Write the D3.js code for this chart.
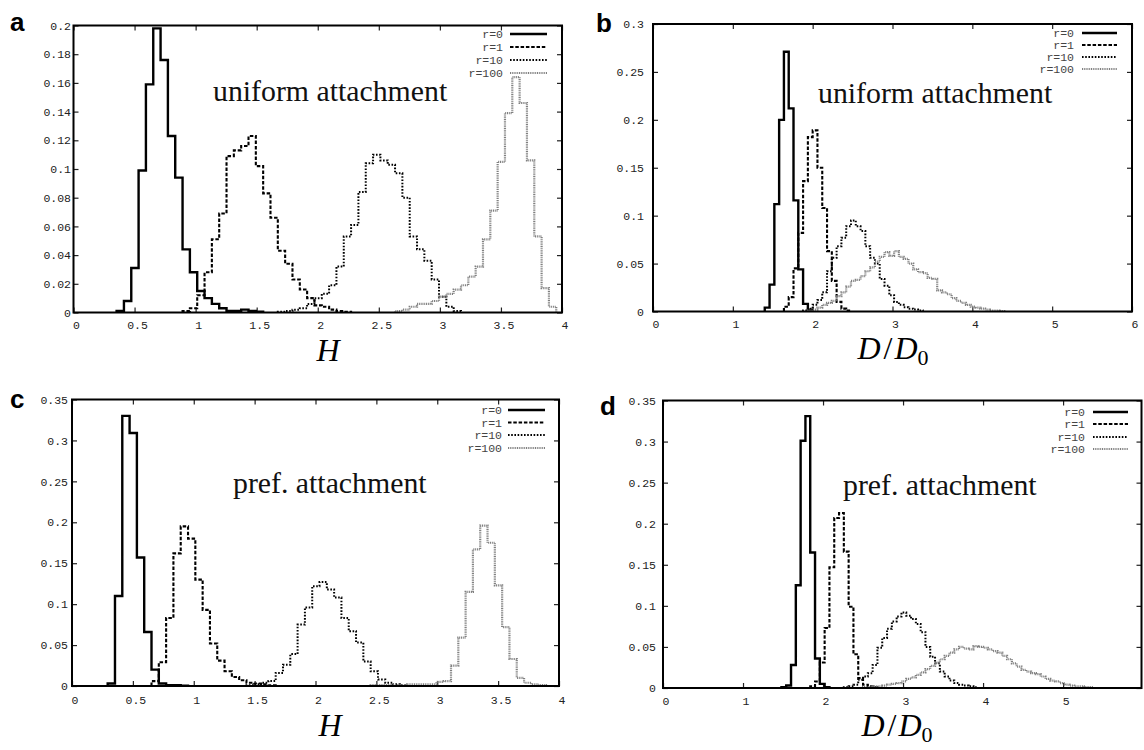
<!DOCTYPE html>
<html><head><meta charset="utf-8">
<script src="https://cdn.jsdelivr.net/npm/d3@7"></script>
<style>body{margin:0;background:#fff}svg{display:block}</style>
</head><body><svg id="c" width="1144" height="750"></svg>
<script>
// ---------- DATA ----------
const BIN = 0.06;
const legendLabels = ["r=0", "r=1", "r=10", "r=100"];

// panel a : H, uniform attachment (bin left edges start)
const a_starts = [0.353, 0.893, 1.673, 2.633];
const a_r0 = [0.001, 0.008, 0.031, 0.099, 0.159, 0.198, 0.176, 0.123, 0.094, 0.044, 0.028, 0.015, 0.010, 0.006, 0.003, 0.001, 0.001, 0.002, 0.001, 0.0005];
const a_r1 = [0.001, 0.003, 0.012, 0.028, 0.051, 0.069, 0.109, 0.113, 0.116, 0.123, 0.102, 0.083, 0.066, 0.043, 0.034, 0.023, 0.016, 0.010, 0.005, 0.004, 0.002, 0.001, 0.0005];
const a_r10 = [0.0005, 0.001, 0.002, 0.003, 0.006, 0.010, 0.013, 0.019, 0.032, 0.053, 0.061, 0.084, 0.104, 0.110, 0.106, 0.103, 0.097, 0.080, 0.053, 0.044, 0.036, 0.023, 0.011, 0.004, 0.001];
const a_r100 = [0.001, 0.002, 0.004, 0.006, 0.006, 0.008, 0.011, 0.013, 0.016, 0.019, 0.025, 0.032, 0.051, 0.071, 0.105, 0.139, 0.164, 0.146, 0.106, 0.053, 0.017, 0.004];

// panel b : D/D0, uniform attachment
const b_starts = [1.40, 1.64, 1.88, 1.94];
const b_r0 = [0.004, 0.028, 0.112, 0.200, 0.271, 0.212, 0.116, 0.044, 0.008, 0.002];
const b_r1 = [0.005, 0.015, 0.045, 0.082, 0.136, 0.182, 0.189, 0.150, 0.108, 0.063, 0.032, 0.010, 0.003, 0.001];
const b_r10 = [0.001, 0.003, 0.007, 0.012, 0.020, 0.042, 0.056, 0.068, 0.077, 0.089, 0.095, 0.089, 0.084, 0.068, 0.056, 0.050, 0.034, 0.027, 0.017, 0.010, 0.007, 0.0045, 0.003, 0.002, 0.001];
const b_r100 = [0.001, 0.002, 0.004, 0.007, 0.009, 0.011, 0.016, 0.020, 0.026, 0.032, 0.033, 0.037, 0.042, 0.046, 0.052, 0.057, 0.062, 0.058, 0.063, 0.057, 0.055, 0.050, 0.044, 0.041, 0.040, 0.035, 0.034, 0.022, 0.020, 0.018, 0.014, 0.011, 0.009, 0.007, 0.005, 0.004, 0.003, 0.002, 0.001, 0.001, 0.0005];

// panel c : H, pref. attachment
const c_starts = [0.293, 0.653, 1.433, 2.453];
const c_r0 = [0.003, 0.110, 0.330, 0.309, 0.157, 0.066, 0.020, 0.003, 0.001, 0.001, 0.0005];
const c_r1 = [0.006, 0.029, 0.083, 0.162, 0.195, 0.180, 0.130, 0.093, 0.052, 0.031, 0.018, 0.011, 0.007, 0.004, 0.003, 0.002, 0.001];
const c_r10 = [0.001, 0.002, 0.004, 0.006, 0.016, 0.026, 0.039, 0.075, 0.096, 0.122, 0.127, 0.118, 0.108, 0.083, 0.067, 0.053, 0.030, 0.018, 0.008, 0.004, 0.002, 0.001];
const c_r100 = [0.001, 0.001, 0.001, 0.001, 0.001, 0.002, 0.002, 0.002, 0.002, 0.005, 0.006, 0.025, 0.059, 0.115, 0.167, 0.196, 0.175, 0.123, 0.072, 0.033, 0.010, 0.004, 0.002, 0.001];

// panel d : D/D0, pref. attachment
const d_starts = [1.48, 1.84, 2.26, 2.50];
const d_r0 = [0.001, 0.003, 0.028, 0.125, 0.301, 0.331, 0.165, 0.036, 0.005, 0.001];
const d_r1 = [0.002, 0.008, 0.031, 0.073, 0.147, 0.207, 0.213, 0.166, 0.099, 0.041, 0.012, 0.004, 0.002, 0.001];
const d_r10 = [0.001, 0.002, 0.004, 0.010, 0.014, 0.018, 0.028, 0.049, 0.061, 0.072, 0.081, 0.087, 0.092, 0.088, 0.084, 0.078, 0.068, 0.050, 0.038, 0.030, 0.020, 0.014, 0.009, 0.006, 0.004, 0.003, 0.002, 0.001];
const d_r100 = [0.001, 0.001, 0.002, 0.002, 0.003, 0.004, 0.005, 0.006, 0.008, 0.011, 0.013, 0.016, 0.019, 0.023, 0.027, 0.031, 0.035, 0.039, 0.043, 0.047, 0.050, 0.048, 0.047, 0.051, 0.050, 0.049, 0.047, 0.045, 0.043, 0.039, 0.035, 0.030, 0.026, 0.022, 0.020, 0.018, 0.017, 0.014, 0.011, 0.009, 0.008, 0.006, 0.004, 0.003, 0.002, 0.002, 0.001, 0.001];

// ticks
const hTicks = [0, 0.5, 1, 1.5, 2, 2.5, 3, 3.5, 4];
const bXTicks = [0, 1, 2, 3, 4, 5, 6];
const dXTicks = [0, 1, 2, 3, 4, 5];
const aYTicks = [0, 0.02, 0.04, 0.06, 0.08, 0.1, 0.12, 0.14, 0.16, 0.18, 0.2];
const bYTicks = [0, 0.05, 0.1, 0.15, 0.2, 0.25, 0.3];
const cdYTicks = [0, 0.05, 0.1, 0.15, 0.2, 0.25, 0.3, 0.35];

// ---------- LAYOUT ----------
const styles = [
  {stroke: "#000", width: 2.4, dash: null},
  {stroke: "#000", width: 2.1, dash: "3.5,1.8"},
  {stroke: "#000", width: 2.0, dash: "1.6,1.6"},
  {stroke: "#808080", width: 2.2, dash: "1,0.8"}
];

const panels = [
  {letter: "a", lx: 10, ly: 31, xr: [73.5, 562], yr: [312.5, 25.5], xd: [0, 4], yd: [0, 0.2],
   xt: hTicks, yt: aYTicks, xpad: 8, ypad: 2.5, title: "uniform attachment", tx: 213, ty: 101,
   lab: "H", labx: 328, laby: 361,
   leg: {tx: 503, x1: 510, x2: 547, ys: [34, 47, 60, 73]},
   starts: a_starts, series: [a_r0, a_r1, a_r10, a_r100]},
  {letter: "b", lx: 596, ly: 32, xr: [653, 1132], yr: [311.5, 24], xd: [0, 6], yd: [0, 0.3],
   xt: bXTicks, yt: bYTicks, xpad: 8, ypad: 9, title: "uniform attachment", tx: 818, ty: 103,
   lab: "D/D0", labx: 893, laby: 359,
   leg: {tx: 1074, x1: 1082, x2: 1117, ys: [33, 45, 57, 69]},
   starts: b_starts, series: [b_r0, b_r1, b_r10, b_r100]},
  {letter: "c", lx: 10, ly: 408, xr: [72, 559], yr: [686, 399.5], xd: [0, 4], yd: [0, 0.35],
   xt: hTicks, yt: cdYTicks, xpad: 10, ypad: 4, title: "pref. attachment", tx: 233, ty: 493,
   lab: "H", labx: 330, laby: 736,
   leg: {tx: 502, x1: 508, x2: 545, ys: [410, 422.5, 435, 448]},
   starts: c_starts, series: [c_r0, c_r1, c_r10, c_r100]},
  {letter: "d", lx: 600, ly: 415, xr: [663, 1141.5], yr: [688, 400.5], xd: [0, 5.98], yd: [0, 0.35],
   xt: dXTicks, yt: cdYTicks, xpad: 9, ypad: 7, title: "pref. attachment", tx: 843, ty: 495,
   lab: "D/D0", labx: 897, laby: 736,
   leg: {tx: 1085, x1: 1093, x2: 1128, ys: [412, 424, 437, 449]},
   starts: d_starts, series: [d_r0, d_r1, d_r10, d_r100]}
];

const svg = d3.select("#c");
const mono = "'Liberation Mono','DejaVu Sans Mono',monospace";
const serif = "'Liberation Serif','DejaVu Serif',serif";
const fmt = d3.format("~g");

panels.forEach((p, pi) => {
  const x = d3.scaleLinear().domain(p.xd).range(p.xr);
  const y = d3.scaleLinear().domain(p.yd).range(p.yr);
  const g = svg.append("g");

  const clipId = "clip" + pi;
  svg.append("clipPath").attr("id", clipId).append("rect")
    .attr("x", p.xr[0]).attr("y", p.yr[1]).attr("width", p.xr[1] - p.xr[0]).attr("height", p.yr[0] - p.yr[1]);

  // axes (inward ticks, mirrored)
  const styleAxis = sel => {
    sel.select(".domain").remove();
    sel.selectAll(".tick line").attr("stroke", "#222").attr("stroke-width", 1.2);
    sel.selectAll(".tick text").attr("fill", "#222").style("font-family", mono).style("font-size", "11.5px");
  };
  g.append("g").attr("transform", `translate(0,${p.yr[0]})`)
    .call(d3.axisBottom(x).tickValues(p.xt).tickSize(-5).tickPadding(p.xpad).tickFormat(fmt))
    .call(styleAxis).selectAll(".tick text").attr("dx", 2.5);
  g.append("g").attr("transform", `translate(0,${p.yr[1]})`)
    .call(d3.axisTop(x).tickValues(p.xt).tickSize(-5).tickFormat(""))
    .call(styleAxis);
  g.append("g").attr("transform", `translate(${p.xr[0]},0)`)
    .call(d3.axisLeft(y).tickValues(p.yt).tickSize(-5).tickPadding(p.ypad).tickFormat(fmt))
    .call(styleAxis);
  g.append("g").attr("transform", `translate(${p.xr[1]},0)`)
    .call(d3.axisRight(y).tickValues(p.yt).tickSize(-5).tickFormat(""))
    .call(styleAxis);

  // histograms as step lines
  const line = d3.line().x(d => x(d[0])).y(d => y(d[1])).curve(d3.curveStepAfter);
  p.series.forEach((vals, si) => {
    const s0 = p.starts[si];
    const pts = [[s0, 0]];
    vals.forEach((v, i) => pts.push([s0 + i * BIN, v]));
    pts.push([s0 + vals.length * BIN, 0]);
    const st = styles[si];
    g.append("path").attr("d", line(pts)).attr("fill", "none")
      .attr("stroke", st.stroke).attr("stroke-width", st.width)
      .attr("stroke-dasharray", st.dash).attr("stroke-linejoin", "miter")
      .attr("clip-path", `url(#${clipId})`);
  });

  // border
  g.append("rect").attr("x", p.xr[0]).attr("y", p.yr[1])
    .attr("width", p.xr[1] - p.xr[0]).attr("height", p.yr[0] - p.yr[1])
    .attr("fill", "none").attr("stroke", "#000").attr("stroke-width", 2);

  // legend
  legendLabels.forEach((lbl, si) => {
    const yy = p.leg.ys[si];
    g.append("text").attr("x", p.leg.tx).attr("y", yy).attr("dy", "0.35em")
      .attr("text-anchor", "end").attr("fill", "#444")
      .style("font-family", mono).style("font-size", "11.5px").text(lbl);
    const st = styles[si];
    g.append("line").attr("x1", p.leg.x1).attr("x2", p.leg.x2).attr("y1", yy).attr("y2", yy)
      .attr("stroke", st.stroke).attr("stroke-width", st.width).attr("stroke-dasharray", st.dash);
  });

  // title
  g.append("text").attr("x", p.tx).attr("y", p.ty).attr("fill", "#111")
    .style("font-family", serif).style("font-size", "29.8px").text(p.title);

  // panel letter
  g.append("text").attr("x", p.lx).attr("y", p.ly).attr("fill", "#000")
    .style("font-family", "'Liberation Sans',Arial,sans-serif").style("font-weight", "bold")
    .style("font-size", "26px").text(p.letter);

  // axis label
  const t = g.append("text").attr("x", p.labx).attr("y", p.laby).attr("text-anchor", "middle")
    .attr("fill", "#000").style("font-family", serif).style("font-size", "32px");
  if (p.lab === "H") {
    t.append("tspan").style("font-style", "italic").text("H");
  } else {
    t.append("tspan").style("font-style", "italic").text("D");
    t.append("tspan").attr("dx", 3).text("/");
    t.append("tspan").attr("dx", 2).style("font-style", "italic").text("D");
    t.append("tspan").attr("dy", 6).style("font-size", "22px").text("0");
  }
});
</script>
</body></html>
